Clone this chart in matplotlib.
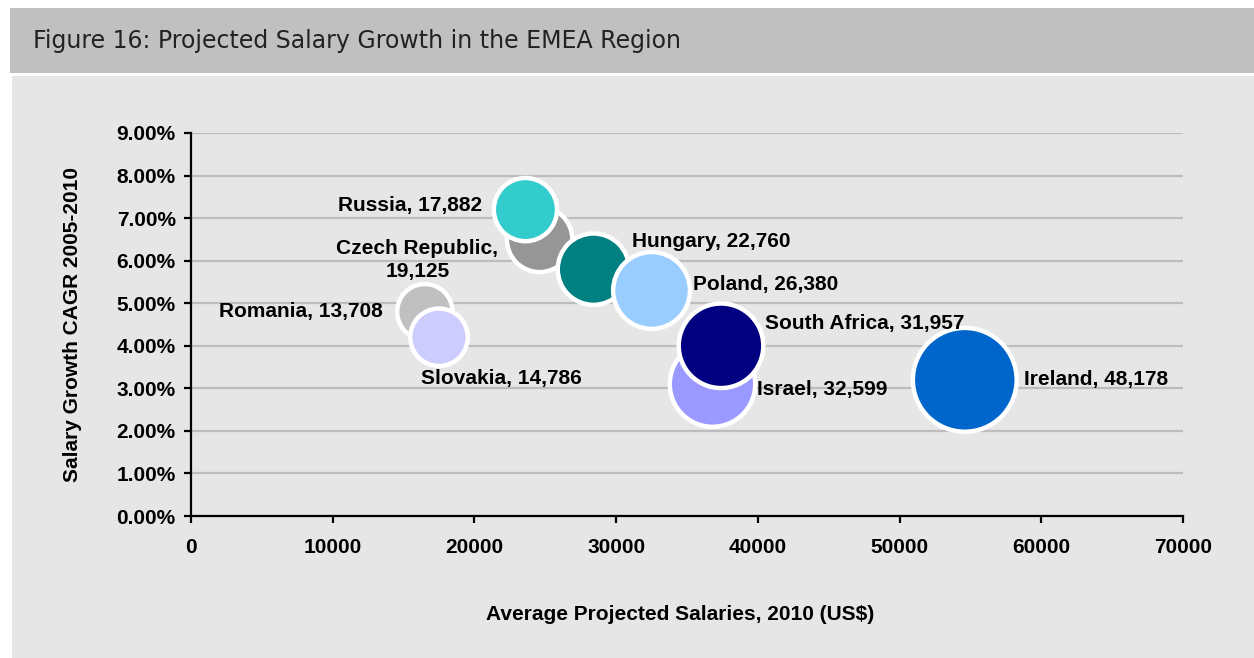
import matplotlib
matplotlib.use("Agg")
import matplotlib.pyplot as plt
from matplotlib.patches import Rectangle
from matplotlib.ticker import FuncFormatter

# values
countries = ['Czech Republic', 'Romania', 'Slovakia', 'Hungary', 'Poland',
             'Russia', 'Israel', 'South Africa', 'Ireland']
salary_2010 = [24600, 16500, 17500, 28400, 32500, 23600, 36800, 37400, 54600]
cagr = [0.065, 0.048, 0.042, 0.058, 0.053, 0.072, 0.031, 0.040, 0.032]
bubble_values = [19125, 13708, 14786, 22760, 26380, 17882, 32599, 31957, 48178]
colors = ['#969696', '#C0C0C0', '#CCCCFF', '#008080', '#99CCFF',
          '#33CCCC', '#9999FF', '#000080', '#0066CC']

# label placement: (dx, dy) in points, horizontal alignment
label_pos = {
    'Czech Republic': ((-88, -15), 'center'),
    'Romania': ((-30, 0), 'right'),
    'Slovakia': ((-13, -30), 'left'),
    'Hungary': ((28, 20), 'left'),
    'Poland': ((30, 4), 'left'),
    'Russia': ((-31, 3), 'right'),
    'Israel': ((32, -4), 'left'),
    'South Africa': ((32, 16), 'left'),
    'Ireland': ((43, 0), 'left'),
}

plt.rcParams['font.family'] = ['Liberation Sans', 'DejaVu Sans']

fig = plt.figure(figsize=(12.54, 6.58), dpi=100)
fig.patch.set_facecolor('white')

# title band and panel
fig.patches.append(Rectangle((10 / 1254, 1 - 73 / 658), 1, 65 / 658,
                             transform=fig.transFigure, facecolor='#C0C0C0',
                             edgecolor='none', zorder=-10))
fig.patches.append(Rectangle((12 / 1254, 0), 1, 1 - 76 / 658,
                             transform=fig.transFigure, facecolor='#E6E6E6',
                             edgecolor='none', zorder=-10))
fig.text(33 / 1254, 1 - 41 / 658,
         'Figure 16: Projected Salary Growth in the EMEA Region',
         family='DejaVu Sans', fontsize=17, color='#222222', va='center')

ax = fig.add_axes([191 / 1254, 1 - 516 / 658, 992 / 1254, 383 / 658])
ax.set_facecolor('none')

size_scale = 0.116
sizes = [v * size_scale for v in bubble_values]
ax.scatter(salary_2010, cagr, s=sizes, c=colors, edgecolors='white',
           linewidths=3.2, zorder=3)

for name, x, y, v in zip(countries, salary_2010, cagr, bubble_values):
    (dx, dy), ha = label_pos[name]
    if name == 'Czech Republic':
        txt = 'Czech Republic,\n{:,}'.format(v)
    else:
        txt = '{}, {:,}'.format(name, v)
    ax.annotate(txt, (x, y), xytext=(dx, dy), textcoords='offset points',
                ha=ha, va='center', fontsize=15, fontweight='bold',
                multialignment='center', linespacing=1.25, zorder=4)

ax.set_xlim(0, 70000)
ax.set_ylim(0, 0.09)
ax.set_xticks(range(0, 70001, 10000))
ax.set_yticks([i / 100 for i in range(0, 10)])
ax.yaxis.set_major_formatter(FuncFormatter(lambda v, p: '{:.2%}'.format(v)))

ax.grid(axis='y', color='#BDBDBD', linewidth=1.6, zorder=1)
ax.set_axisbelow(True)
for side in ['top', 'right']:
    ax.spines[side].set_visible(False)
for side in ['left', 'bottom']:
    ax.spines[side].set_linewidth(1.6)
    ax.spines[side].set_zorder(2)
ax.tick_params(axis='both', length=5, width=1.6, labelsize=15)
ax.tick_params(axis='x', pad=11)
ax.tick_params(axis='y', pad=6)
for lbl in ax.get_xticklabels() + ax.get_yticklabels():
    lbl.set_fontweight('bold')

ax.set_xlabel('Average Projected Salaries, 2010 (US$)', fontsize=15,
              fontweight='bold')
ax.set_ylabel('Salary Growth CAGR 2005-2010', fontsize=15, fontweight='bold')
ax.xaxis.set_label_coords(0.493, -0.232)
ax.yaxis.set_label_coords(-0.11, 0.5)

fig.savefig('out.png', dpi=100)
